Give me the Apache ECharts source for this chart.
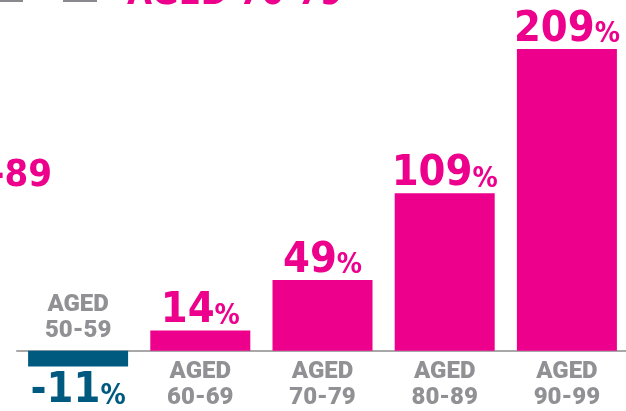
<!DOCTYPE html>
<html>
<head>
<meta charset="utf-8">
<script src="https://cdn.jsdelivr.net/npm/echarts@6/dist/echarts.min.js"></script>
<style>
html,body{margin:0;padding:0;background:#fff;}
#c{width:626px;height:411px;}
</style>
</head>
<body>
<div id="c"></div>
<script>
const categories = ['50-59', '60-69', '70-79', '80-89', '90-99'];
const values = [-11, 14, 49, 109, 209];
const labelPrefix = 'AGED';

const PINK = '#EC008C';
const TEAL = '#005A80';
const GREY = '#76767A';
const NUMFONT = "'DejaVu Sans Condensed','Liberation Sans Narrow',sans-serif";
const CATFONT = "Roboto, 'Open Sans', sans-serif";

const chart = echarts.init(document.getElementById('c'), null, {renderer: 'canvas'});

const numRich = {
  n: {fontFamily: NUMFONT, fontWeight: 'bold', fontSize: 43, lineHeight: 44, verticalAlign: 'bottom'},
  p: {fontFamily: NUMFONT, fontWeight: 'bold', fontSize: 28, lineHeight: 44, verticalAlign: 'bottom', padding: [0, 0, 2, 0]}
};

const catLabel = {
  color: GREY,
  fontFamily: CATFONT,
  fontWeight: 900,
  fontSize: 24,
  lineHeight: 26,
  align: 'center',
  formatter: p => labelPrefix + '\n' + categories[p.dataIndex]
};

chart.setOption({
  animation: false,
  grid: {left: 17, right: -2, top: 33, bottom: 2.6, outerBoundsMode: 'none'},
  xAxis: {
    type: 'category',
    data: categories,
    axisLine: {lineStyle: {color: '#A8A8A8', width: 2}},
    axisTick: {show: false},
    axisLabel: {show: false}
  },
  yAxis: {type: 'value', min: -40, max: 220, show: false, splitLine: {show: false}},
  series: [
    {
      type: 'bar',
      barWidth: 100,
      data: values.map(v => ({
        value: v,
        itemStyle: {color: v < 0 ? TEAL : PINK},
        label: {
          show: true,
          position: v < 0 ? 'bottom' : 'top',
          distance: v < 0 ? 2 : -2,
          color: v < 0 ? TEAL : PINK,
          formatter: p => '{n|' + p.value + '}{p|%}',
          rich: numRich
        }
      }))
    },
    {
      type: 'scatter',
      silent: true,
      symbolSize: 0,
      z: 5,
      labelLayout: {hideOverlap: false},
      data: values.map(v => ({
        value: 0,
        label: Object.assign({show: true}, catLabel, {
          position: v < 0 ? 'top' : 'bottom',
          distance: v < 0 ? 7 : 8
        })
      }))
    }
  ],
  graphic: [
    {type: 'rect', left: -2, top: -20, shape: {width: 25, height: 22}, style: {fill: '#8A8A8E'}, silent: true},
    {type: 'rect', left: 63, top: -20, shape: {width: 34, height: 22}, style: {fill: '#8A8A8E'}, silent: true},
    {type: 'text', left: 127, top: -23, style: {text: 'AGED 70-79', fill: PINK, font: "bold 36px " + NUMFONT}, silent: true},
    {type: 'text', right: 574, top: 157, style: {text: 'AGED 80-89', fill: PINK, font: "bold 38px " + NUMFONT}, silent: true}
  ]
});
</script>
</body>
</html>
